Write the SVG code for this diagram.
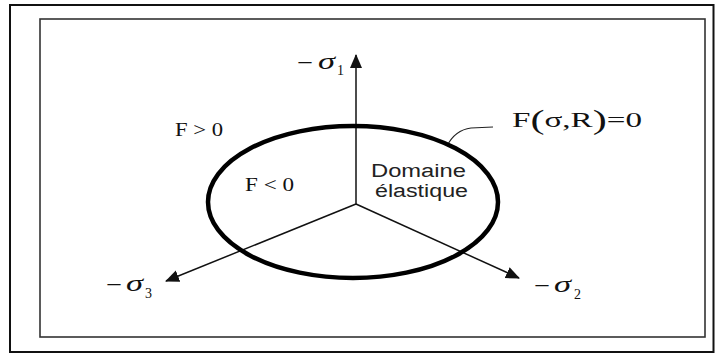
<svg xmlns="http://www.w3.org/2000/svg" width="715" height="354" viewBox="0 0 715 354">
<style>
.serif{font-family:"Liberation Serif","Times New Roman",serif;fill:#111}
.sans{font-family:"Liberation Sans",Arial,sans-serif;fill:#222}
.axis{stroke:#111;stroke-width:1.5;fill:none}
.sig{font-family:"Liberation Serif","Times New Roman",serif;fill:#111;font-size:23px;font-style:italic}
.minus{stroke:#111;stroke-width:1.3}
.sub{font-family:"Liberation Serif","Times New Roman",serif;fill:#111;font-size:14px}
</style>
<defs>
<marker id="arr" viewBox="0 0 14 14" refX="13" refY="7" markerWidth="14" markerHeight="14" markerUnits="userSpaceOnUse" orient="auto">
<path d="M0,1 L14,7 L0,13 Z" fill="#111"/>
</marker>
</defs>
<rect x="0" y="0" width="715" height="354" fill="#fff"/>
<rect id="outer-frame" x="10" y="5" width="703.5" height="347" fill="none" stroke="#111" stroke-width="2"/>
<rect id="inner-frame" x="40" y="19" width="665" height="318" fill="none" stroke="#333" stroke-width="1.6"/>
<g id="connectors">
<line class="axis" x1="356" y1="204" x2="356" y2="55" marker-end="url(#arr)"/>
<line class="axis" x1="356" y1="204" x2="166" y2="281" marker-end="url(#arr)"/>
<line class="axis" x1="356" y1="204" x2="519" y2="278" marker-end="url(#arr)"/>
<path d="M493,127 L471,128 Q455,130 447,146" fill="none" stroke="#222" stroke-width="1.2"/>
</g>
<g id="yield-surface">
<ellipse cx="353" cy="202" rx="145" ry="76" fill="none" stroke="#000" stroke-width="4.5"/>
</g>
<g id="label-sigma1">
<text class="serif" x="297" y="70" font-size="22" textLength="16" lengthAdjust="spacingAndGlyphs">−</text>
<text class="sig" x="318" y="69" textLength="17" lengthAdjust="spacingAndGlyphs">σ</text>
<text class="sub" x="337" y="75">1</text>
</g>
<g id="label-sigma3">
<text class="serif" x="106" y="292" font-size="22" textLength="16" lengthAdjust="spacingAndGlyphs">−</text>
<text class="sig" x="126" y="291" textLength="17" lengthAdjust="spacingAndGlyphs">σ</text>
<text class="sub" x="145" y="298">3</text>
</g>
<g id="label-sigma2">
<text class="serif" x="534" y="293" font-size="22" textLength="16" lengthAdjust="spacingAndGlyphs">−</text>
<text class="sig" x="554" y="292" textLength="17" lengthAdjust="spacingAndGlyphs">σ</text>
<text class="sub" x="574" y="299">2</text>
</g>
<g id="label-yield">
<text class="serif" x="512" y="127" font-size="22" textLength="130" lengthAdjust="spacingAndGlyphs">F<tspan font-size="28" dy="2">(</tspan><tspan dy="-2">σ,R</tspan><tspan font-size="28" dy="2">)</tspan><tspan dy="-2">=0</tspan></text>
</g>
<g id="label-outside">
<text class="serif" x="175" y="136" font-size="18" textLength="48" lengthAdjust="spacingAndGlyphs">F &gt; 0</text>
</g>
<g id="label-inside">
<text class="serif" x="245" y="191" font-size="18" textLength="49" lengthAdjust="spacingAndGlyphs">F &lt; 0</text>
</g>
<g id="label-domain">
<text class="sans" x="371" y="177" font-size="18" textLength="95" lengthAdjust="spacingAndGlyphs">Domaine</text>
<text class="sans" x="375" y="197" font-size="18" textLength="93" lengthAdjust="spacingAndGlyphs">élastique</text>
</g>
</svg>
